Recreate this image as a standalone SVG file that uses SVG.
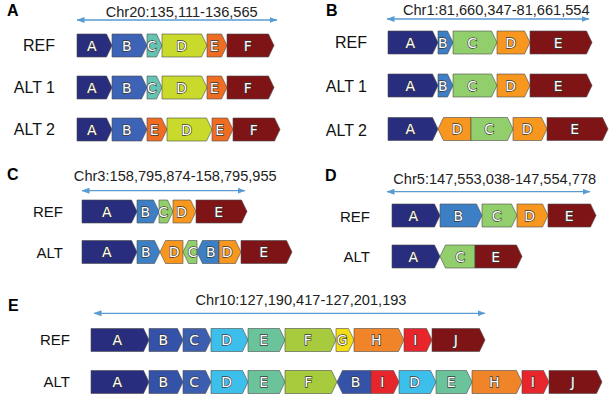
<svg xmlns="http://www.w3.org/2000/svg" width="613" height="404" viewBox="0 0 613 404">
<defs>
<marker id="ah" viewBox="0 0 8 6" refX="7.5" refY="3" markerWidth="8" markerHeight="6" markerUnits="userSpaceOnUse" orient="auto-start-reverse">
<path d="M0,0 L8,3 L0,6 z" fill="#5a9bd4"/>
</marker>
</defs>
<style>
.bk{stroke:#4a4a4a;stroke-width:0.6;stroke-linejoin:miter}
.bl{font-family:"DejaVu Sans",sans-serif;font-size:14px;fill:#fff;stroke:#3a3a3a;stroke-width:1.3;paint-order:stroke;text-anchor:middle}
.lb{font-family:"Liberation Sans",Arial,sans-serif;fill:#111;text-anchor:end}
.l16{font-size:16px}
.l15{font-size:15px}
.pl{font-family:"Liberation Sans",Arial,sans-serif;font-weight:bold;font-size:16px;fill:#000}
.ch{font-family:"Liberation Sans",Arial,sans-serif;font-size:14.6px;fill:#222;text-anchor:middle}
.ar{stroke:#5a9bd4;stroke-width:1.3;fill:none;marker-start:url(#ah);marker-end:url(#ah)}
.cA{fill:#282d7d}.cB1{fill:#3d63b6}.cC1{fill:#64c4b1}.cD1{fill:#c9da2c}.cE1{fill:#ef6c23}.cR{fill:#7e1416}
.cB2{fill:#3d7fc5}.cC2{fill:#92cf6c}.cD2{fill:#f7971f}
.cB3{fill:#3452a7}.cC3{fill:#3b5eb0}.cD3{fill:#3dbfeb}.cE3{fill:#6bc39b}.cF3{fill:#a7cb3c}.cG3{fill:#f4dd16}.cH3{fill:#f08428}.cI3{fill:#e7262b}
</style>

<!-- Panel labels and titles -->
<g id="titles">
<text class="pl" x="7" y="16">A</text>
<text class="pl" x="326" y="16">B</text>
<text class="pl" x="7" y="179.5">C</text>
<text class="pl" x="325" y="180.7">D</text>
<text class="pl" x="8" y="311">E</text>
<text class="ch" x="181.7" y="16.7">Chr20:135,111-136,565</text>
<text class="ch" x="496.3" y="15.2">Chr1:81,660,347-81,661,554</text>
<text class="ch" x="175.3" y="180.5">Chr3:158,795,874-158,795,955</text>
<text class="ch" x="494.7" y="183.5">Chr5:147,553,038-147,554,778</text>
<text class="ch" x="301" y="305">Chr10:127,190,417-127,201,193</text>
<text class="lb l16" x="55" y="51">REF</text>
<text class="lb l16" x="55" y="93">ALT 1</text>
<text class="lb l16" x="55" y="135">ALT 2</text>
<text class="lb l16" x="367" y="48.3">REF</text>
<text class="lb l16" x="367" y="91.7">ALT 1</text>
<text class="lb l16" x="367" y="135.5">ALT 2</text>
<text class="lb l15" x="63" y="217.3">REF</text>
<text class="lb l15" x="63" y="258.3">ALT</text>
<text class="lb l15" x="370" y="221.7">REF</text>
<text class="lb l15" x="370" y="261.7">ALT</text>
<text class="lb l15" x="70" y="345">REF</text>
<text class="lb l15" x="70" y="386.7">ALT</text>
</g>

<g id="connectors">
<line class="ar" x1="77" y1="20" x2="277" y2="20"/>
<line class="ar" x1="387" y1="19" x2="589" y2="19"/>
<line class="ar" x1="82" y1="190.7" x2="245" y2="190.7"/>
<line class="ar" x1="387" y1="191.7" x2="590" y2="191.7"/>
<line class="ar" x1="94" y1="313.3" x2="485" y2="313.3"/>
</g>

<!-- Panel A REF -->
<g id="A-ref-A"><polygon class="bk cA" points="77,34 106.5,34 112,45.5 106.5,57 77,57"/><text class="bl" x="91.75" y="50.6">A</text></g>
<g id="A-ref-B"><polygon class="bk cB1" points="112,34 141.5,34 147,45.5 141.5,57 112,57"/><text class="bl" x="126.75" y="50.6">B</text></g>
<g id="A-ref-C"><polygon class="bk cC1" points="147,34 156.5,34 162,45.5 156.5,57 147,57"/><text class="bl" x="151.75" y="50.6">C</text></g>
<g id="A-ref-D"><polygon class="bk cD1" points="162,34 201.5,34 207,45.5 201.5,57 162,57"/><text class="bl" x="181.75" y="50.6">D</text></g>
<g id="A-ref-E"><polygon class="bk cE1" points="207,34 221.5,34 227,45.5 221.5,57 207,57"/><text class="bl" x="214.25" y="50.6">E</text></g>
<g id="A-ref-F"><polygon class="bk cR" points="227,34 268.5,34 274,45.5 268.5,57 227,57"/><text class="bl" x="247.75" y="50.6">F</text></g>
<!-- Panel A ALT1 -->
<g id="A-alt1-A"><polygon class="bk cA" points="77,76 106.5,76 112,87.5 106.5,99 77,99"/><text class="bl" x="91.75" y="92.6">A</text></g>
<g id="A-alt1-B"><polygon class="bk cB1" points="112,76 141.5,76 147,87.5 141.5,99 112,99"/><text class="bl" x="126.75" y="92.6">B</text></g>
<g id="A-alt1-C"><polygon class="bk cC1" points="147,76 156.5,76 162,87.5 156.5,99 147,99"/><text class="bl" x="151.75" y="92.6">C</text></g>
<g id="A-alt1-D"><polygon class="bk cD1" points="162,76 201.5,76 207,87.5 201.5,99 162,99"/><text class="bl" x="181.75" y="92.6">D</text></g>
<g id="A-alt1-E"><polygon class="bk cE1" points="207,76 221.5,76 227,87.5 221.5,99 207,99"/><text class="bl" x="214.25" y="92.6">E</text></g>
<g id="A-alt1-F"><polygon class="bk cR" points="227,76 268.5,76 274,87.5 268.5,99 227,99"/><text class="bl" x="247.75" y="92.6">F</text></g>
<!-- Panel A ALT2 -->
<g id="A-alt2-A"><polygon class="bk cA" points="77,118 106.5,118 112,129.5 106.5,141 77,141"/><text class="bl" x="91.75" y="134.6">A</text></g>
<g id="A-alt2-B"><polygon class="bk cB1" points="112,118 141.5,118 147,129.5 141.5,141 112,141"/><text class="bl" x="126.75" y="134.6">B</text></g>
<g id="A-alt2-E1"><polygon class="bk cE1" points="147,118 161.5,118 167,129.5 161.5,141 147,141"/><text class="bl" x="154.25" y="134.6">E</text></g>
<g id="A-alt2-D"><polygon class="bk cD1" points="167,118 206.5,118 212,129.5 206.5,141 167,141"/><text class="bl" x="186.75" y="134.6">D</text></g>
<g id="A-alt2-E2"><polygon class="bk cE1" points="212,118 227.5,118 233,129.5 227.5,141 212,141"/><text class="bl" x="219.75" y="134.6">E</text></g>
<g id="A-alt2-F"><polygon class="bk cR" points="233,118 274.5,118 280,129.5 274.5,141 233,141"/><text class="bl" x="253.75" y="134.6">F</text></g>

<!-- Panel B REF -->
<g id="B-ref-A"><polygon class="bk cA" points="388,31 432.5,31 438,42.5 432.5,54 388,54"/><text class="bl" x="410.25" y="47.6">A</text></g>
<g id="B-ref-B"><polygon class="bk cB2" points="438,31 447.5,31 453,42.5 447.5,54 438,54"/><text class="bl" x="442.75" y="47.6">B</text></g>
<g id="B-ref-C"><polygon class="bk cC2" points="453,31 491.5,31 497,42.5 491.5,54 453,54"/><text class="bl" x="472.25" y="47.6">C</text></g>
<g id="B-ref-D"><polygon class="bk cD2" points="497,31 524.5,31 530,42.5 524.5,54 497,54"/><text class="bl" x="510.75" y="47.6">D</text></g>
<g id="B-ref-E"><polygon class="bk cR" points="530,31 586.5,31 592,42.5 586.5,54 530,54"/><text class="bl" x="558.25" y="47.6">E</text></g>
<!-- Panel B ALT1 -->
<g id="B-alt1-A"><polygon class="bk cA" points="388,74 432.5,74 438,85.5 432.5,97 388,97"/><text class="bl" x="410.25" y="90.6">A</text></g>
<g id="B-alt1-B"><polygon class="bk cB2" points="438,74 447.5,74 453,85.5 447.5,97 438,97"/><text class="bl" x="442.75" y="90.6">B</text></g>
<g id="B-alt1-C"><polygon class="bk cC2" points="453,74 491.5,74 497,85.5 491.5,97 453,97"/><text class="bl" x="472.25" y="90.6">C</text></g>
<g id="B-alt1-D"><polygon class="bk cD2" points="497,74 524.5,74 530,85.5 524.5,97 497,97"/><text class="bl" x="510.75" y="90.6">D</text></g>
<g id="B-alt1-E"><polygon class="bk cR" points="530,74 586.5,74 592,85.5 586.5,97 530,97"/><text class="bl" x="558.25" y="90.6">E</text></g>
<!-- Panel B ALT2 -->
<g id="B-alt2-A"><polygon class="bk cA" points="388,117.5 432.5,117.5 438,129 432.5,140.5 388,140.5"/><text class="bl" x="410.25" y="134.1">A</text></g>
<g id="B-alt2-D1"><polygon class="bk cD2" points="443.5,117.5 471,117.5 471,140.5 443.5,140.5 438,129"/><text class="bl" x="457.25" y="134.1">D</text></g>
<g id="B-alt2-C"><polygon class="bk cC2" points="471,117.5 507.5,117.5 513,129 507.5,140.5 471,140.5"/><text class="bl" x="489.25" y="134.1">C</text></g>
<g id="B-alt2-D2"><polygon class="bk cD2" points="513,117.5 541.5,117.5 547,129 541.5,140.5 513,140.5"/><text class="bl" x="527.25" y="134.1">D</text></g>
<g id="B-alt2-E"><polygon class="bk cR" points="547,117.5 602.5,117.5 608,129 602.5,140.5 547,140.5"/><text class="bl" x="574.75" y="134.1">E</text></g>

<!-- Panel C REF -->
<g id="C-ref-A"><polygon class="bk cA" points="82,200 131.5,200 137,211.5 131.5,223 82,223"/><text class="bl" x="106.75" y="216.6">A</text></g>
<g id="C-ref-B"><polygon class="bk cB2" points="137,200 153.5,200 159,211.5 153.5,223 137,223"/><text class="bl" x="145.25" y="216.6">B</text></g>
<g id="C-ref-C"><polygon class="bk cC2" points="159,200 167.5,200 173,211.5 167.5,223 159,223"/><text class="bl" x="163.25" y="216.6">C</text></g>
<g id="C-ref-D"><polygon class="bk cD2" points="173,200 190.5,200 196,211.5 190.5,223 173,223"/><text class="bl" x="181.75" y="216.6">D</text></g>
<g id="C-ref-E"><polygon class="bk cR" points="196,200 241.5,200 247,211.5 241.5,223 196,223"/><text class="bl" x="218.75" y="216.6">E</text></g>
<!-- Panel C ALT -->
<g id="C-alt-A"><polygon class="bk cA" points="82,240.5 131.5,240.5 137,252 131.5,263.5 82,263.5"/><text class="bl" x="106.75" y="257.1">A</text></g>
<g id="C-alt-B1"><polygon class="bk cB2" points="137,240.5 154.5,240.5 160,252 154.5,263.5 137,263.5"/><text class="bl" x="145.75" y="257.1">B</text></g>
<g id="C-alt-D1"><polygon class="bk cD2" points="165.5,240.5 183,240.5 183,263.5 165.5,263.5 160,252"/><text class="bl" x="174.25" y="257.1">D</text></g>
<g id="C-alt-C"><polygon class="bk cC2" points="188.5,240.5 197,240.5 197,263.5 188.5,263.5 183,252"/><text class="bl" x="192.75" y="257.1">C</text></g>
<g id="C-alt-B2"><polygon class="bk cB2" points="202.5,240.5 219,240.5 219,263.5 202.5,263.5 197,252"/><text class="bl" x="210.75" y="257.1">B</text></g>
<g id="C-alt-D2"><polygon class="bk cD2" points="219,240.5 235.5,240.5 241,252 235.5,263.5 219,263.5"/><text class="bl" x="227.25" y="257.1">D</text></g>
<g id="C-alt-E"><polygon class="bk cR" points="241,240.5 286.5,240.5 292,252 286.5,263.5 241,263.5"/><text class="bl" x="263.75" y="257.1">E</text></g>

<!-- Panel D REF -->
<g id="D-ref-A"><polygon class="bk cA" points="392,204 434.5,204 440,215.5 434.5,227 392,227"/><text class="bl" x="413.25" y="220.6">A</text></g>
<g id="D-ref-B"><polygon class="bk cB2" points="440,204 476.5,204 482,215.5 476.5,227 440,227"/><text class="bl" x="458.25" y="220.6">B</text></g>
<g id="D-ref-C"><polygon class="bk cC2" points="482,204 511.5,204 517,215.5 511.5,227 482,227"/><text class="bl" x="496.75" y="220.6">C</text></g>
<g id="D-ref-D"><polygon class="bk cD2" points="517,204 542.5,204 548,215.5 542.5,227 517,227"/><text class="bl" x="529.75" y="220.6">D</text></g>
<g id="D-ref-E"><polygon class="bk cR" points="548,204 590.5,204 596,215.5 590.5,227 548,227"/><text class="bl" x="569.25" y="220.6">E</text></g>
<!-- Panel D ALT -->
<g id="D-alt-A"><polygon class="bk cA" points="392,245 434.5,245 440,256.5 434.5,268 392,268"/><text class="bl" x="413.25" y="261.6">A</text></g>
<g id="D-alt-C"><polygon class="bk cC2" points="445.5,245 475,245 475,268 445.5,268 440,256.5"/><text class="bl" x="460.25" y="261.6">C</text></g>
<g id="D-alt-E"><polygon class="bk cR" points="475,245 516.5,245 522,256.5 516.5,268 475,268"/><text class="bl" x="495.75" y="261.6">E</text></g>

<!-- Panel E REF -->
<g id="E-ref-A"><polygon class="bk cA" points="91,328.5 143.5,328.5 149,340 143.5,351.5 91,351.5"/><text class="bl" x="117.25" y="345.1">A</text></g>
<g id="E-ref-B"><polygon class="bk cB3" points="149,328.5 177.5,328.5 183,340 177.5,351.5 149,351.5"/><text class="bl" x="163.25" y="345.1">B</text></g>
<g id="E-ref-C"><polygon class="bk cC3" points="183,328.5 205.5,328.5 211,340 205.5,351.5 183,351.5"/><text class="bl" x="194.25" y="345.1">C</text></g>
<g id="E-ref-D"><polygon class="bk cD3" points="211,328.5 242.5,328.5 248,340 242.5,351.5 211,351.5"/><text class="bl" x="226.75" y="345.1">D</text></g>
<g id="E-ref-E"><polygon class="bk cE3" points="248,328.5 279.5,328.5 285,340 279.5,351.5 248,351.5"/><text class="bl" x="263.75" y="345.1">E</text></g>
<g id="E-ref-F"><polygon class="bk cF3" points="285,328.5 330.5,328.5 336,340 330.5,351.5 285,351.5"/><text class="bl" x="307.75" y="345.1">F</text></g>
<g id="E-ref-G"><polygon class="bk cG3" points="336,328.5 348.5,328.5 354,340 348.5,351.5 336,351.5"/><text class="bl" x="342.25" y="345.1">G</text></g>
<g id="E-ref-H"><polygon class="bk cH3" points="354,328.5 398.5,328.5 404,340 398.5,351.5 354,351.5"/><text class="bl" x="376.25" y="345.1">H</text></g>
<g id="E-ref-I"><polygon class="bk cI3" points="404,328.5 426.5,328.5 432,340 426.5,351.5 404,351.5"/><text class="bl" x="415.25" y="345.1">I</text></g>
<g id="E-ref-J"><polygon class="bk cR" points="432,328.5 479.5,328.5 485,340 479.5,351.5 432,351.5"/><text class="bl" x="455.75" y="345.1">J</text></g>
<!-- Panel E ALT -->
<g id="E-alt-A"><polygon class="bk cA" points="91,370.5 143.5,370.5 149,382 143.5,393.5 91,393.5"/><text class="bl" x="117.25" y="387.1">A</text></g>
<g id="E-alt-B1"><polygon class="bk cB3" points="149,370.5 177.5,370.5 183,382 177.5,393.5 149,393.5"/><text class="bl" x="163.25" y="387.1">B</text></g>
<g id="E-alt-C"><polygon class="bk cC3" points="183,370.5 205.5,370.5 211,382 205.5,393.5 183,393.5"/><text class="bl" x="194.25" y="387.1">C</text></g>
<g id="E-alt-D1"><polygon class="bk cD3" points="211,370.5 242.5,370.5 248,382 242.5,393.5 211,393.5"/><text class="bl" x="226.75" y="387.1">D</text></g>
<g id="E-alt-E1"><polygon class="bk cE3" points="248,370.5 279.5,370.5 285,382 279.5,393.5 248,393.5"/><text class="bl" x="263.75" y="387.1">E</text></g>
<g id="E-alt-F"><polygon class="bk cF3" points="285,370.5 331.5,370.5 337,382 331.5,393.5 285,393.5"/><text class="bl" x="308.25" y="387.1">F</text></g>
<g id="E-alt-B2"><polygon class="bk cB3" points="342.5,370.5 371,370.5 371,393.5 342.5,393.5 337,382"/><text class="bl" x="355.5" y="387.1">B</text></g>
<g id="E-alt-I1"><polygon class="bk cI3" points="371,370.5 393.5,370.5 399,382 393.5,393.5 371,393.5"/><text class="bl" x="382.25" y="387.1">I</text></g>
<g id="E-alt-D2"><polygon class="bk cD3" points="399,370.5 430.5,370.5 436,382 430.5,393.5 399,393.5"/><text class="bl" x="414.75" y="387.1">D</text></g>
<g id="E-alt-E2"><polygon class="bk cE3" points="436,370.5 466.5,370.5 472,382 466.5,393.5 436,393.5"/><text class="bl" x="451.25" y="387.1">E</text></g>
<g id="E-alt-H"><polygon class="bk cH3" points="472,370.5 516.5,370.5 522,382 516.5,393.5 472,393.5"/><text class="bl" x="494.25" y="387.1">H</text></g>
<g id="E-alt-I2"><polygon class="bk cI3" points="522,370.5 543.5,370.5 549,382 543.5,393.5 522,393.5"/><text class="bl" x="532.75" y="387.1">I</text></g>
<g id="E-alt-J"><polygon class="bk cR" points="549,370.5 596.5,370.5 602,382 596.5,393.5 549,393.5"/><text class="bl" x="572.75" y="387.1">J</text></g>
</svg>
